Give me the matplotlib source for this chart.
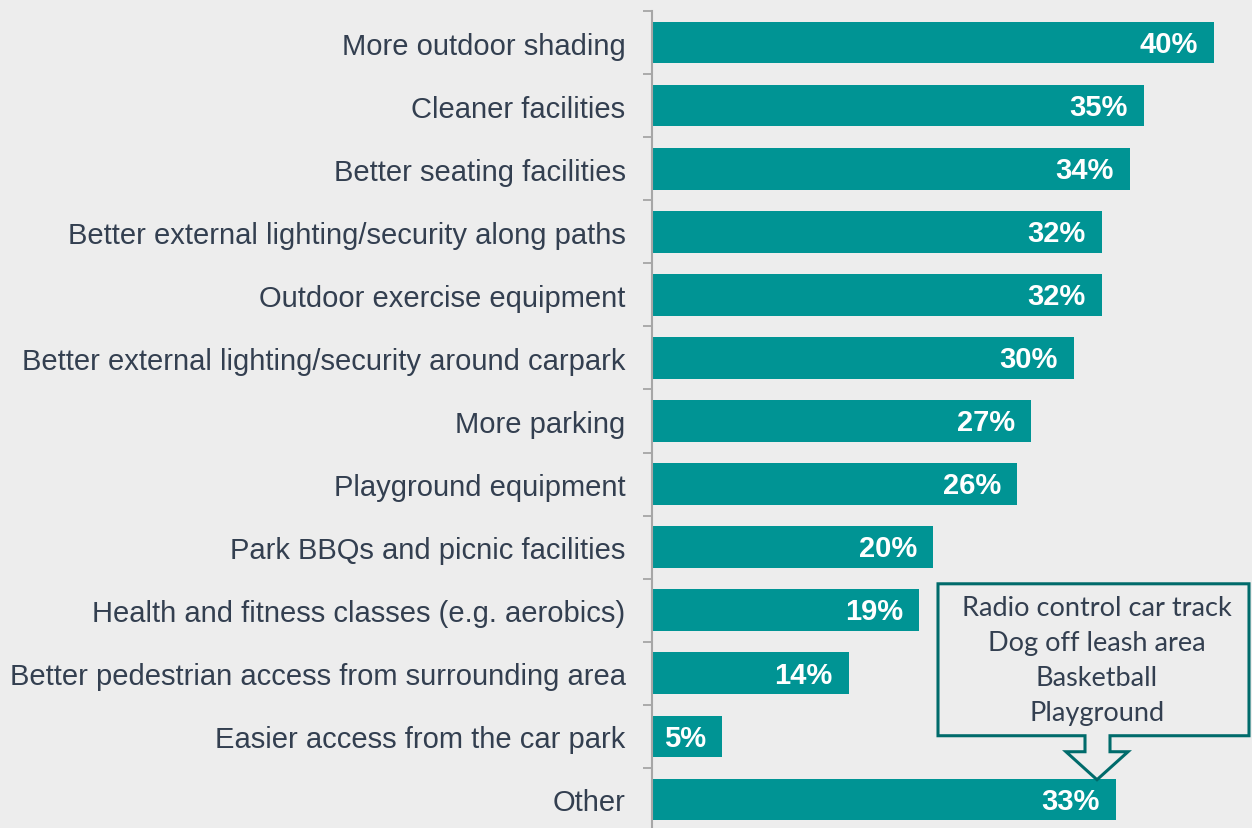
import numpy as np
import matplotlib.pyplot as plt
from matplotlib.patches import Polygon

categories = [
    "More outdoor shading",
    "Cleaner facilities",
    "Better seating facilities",
    "Better external lighting/security along paths",
    "Outdoor exercise equipment",
    "Better external lighting/security around carpark",
    "More parking",
    "Playground equipment",
    "Park BBQs and picnic facilities",
    "Health and fitness classes (e.g. aerobics)",
    "Better pedestrian access from surrounding area",
    "Easier access from the car park",
    "Other",
]
values = [40, 35, 34, 32, 32, 30, 27, 26, 20, 19, 14, 5, 33]
other_notes = ["Radio control car track", "Dog off leash area", "Basketball", "Playground"]

BG = "#EDEDED"
BAR = "#009494"
TEXT = "#333F50"
EDGE = "#006B6B"
AXIS = "#A6A6A6"

plt.rcParams['font.family'] = ['Liberation Sans', 'DejaVu Sans']

fig = plt.figure(figsize=(12.52, 8.29), dpi=100, facecolor=BG)
ax = fig.add_axes([652 / 1252, -3 / 829, 600 / 1252, 820 / 829])
ax.set_facecolor(BG)

y = np.arange(len(categories))
ax.barh(y, values, height=0.66, color=BAR)
ax.set_xlim(0, 600 / 14.05)
ax.set_ylim(len(categories) - 0.5, -0.5)

for yi, v in zip(y, values):
    ax.text(v - 1.15, yi + 0.02, f"{v}%", ha="right", va="center", color="white",
            fontsize=21, fontweight="bold")

ax.set_yticks(y)
ax.set_yticklabels(categories, fontsize=21, color=TEXT)
ax.set_yticks(np.arange(-0.5, len(categories) + 0.5, 1), minor=True)
ax.tick_params(axis="y", which="major", length=0, pad=19)
ax.tick_params(axis="y", which="minor", length=6.5, width=1.3, color=AXIS)
ax.set_xticks([])
for s in ["top", "right", "bottom"]:
    ax.spines[s].set_visible(False)
ax.spines["left"].set_color(AXIS)
ax.spines["left"].set_linewidth(1.5)

# callout box with arrow pointing at the "Other" bar
def px(x, yy):
    return ((x - 652) / 14.05, (yy - 12) / 63.1 - 0.5)

pts = [px(*p) for p in [(938, 585), (1249, 585), (1249, 737), (1110, 737), (1110, 753),
                        (1128, 753), (1097, 781), (1066, 753), (1085, 753), (1085, 737),
                        (938, 737)]]
ax.add_patch(Polygon(pts, closed=True, facecolor=BG, edgecolor=EDGE, linewidth=2.2,
                     clip_on=False, zorder=5))
cx, cy = px(1097, 661)
ax.text(cx, cy, "\n".join(other_notes), ha="center", va="center", color=TEXT,
        fontsize=19.5, family=["Lato", "DejaVu Sans"], linespacing=1.5, zorder=6)

fig.savefig("out.png", dpi=100, facecolor=BG)
